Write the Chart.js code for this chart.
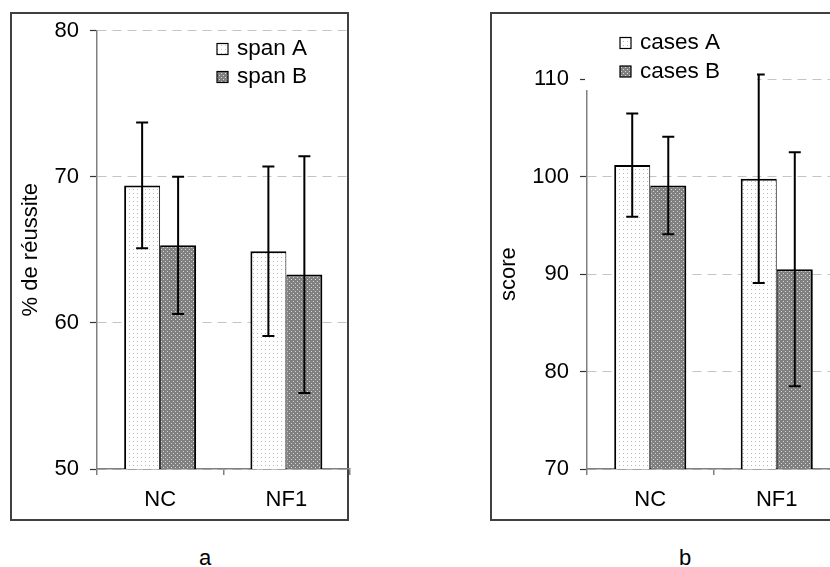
<!DOCTYPE html>
<html>
<head>
<meta charset="utf-8">
<script src="https://cdn.jsdelivr.net/npm/chart.js@4.4.0/dist/chart.umd.min.js"></script>
<style>
  html, body { margin: 0; padding: 0; background: #fff; overflow: hidden; }
  #page { position: relative; width: 830px; height: 567px; overflow: hidden; font-family: "Liberation Sans", Arial, sans-serif; }
  .frame { position: absolute; top: 12px; height: 509px; border: 2px solid #404040; box-sizing: border-box; }
  .caption { position: absolute; top: 545px; width: 100px; line-height: 26px; font-size: 22px; text-align: center; color: #000; }
  canvas { position: absolute; top: 0; }
</style>
</head>
<body>
<div id="page">
  <div class="frame" style="left:10px; width:339px"></div>
  <div class="frame" style="left:490px; width:400px"></div>
  <canvas id="chartA" width="352" height="520" style="left:0"></canvas>
  <canvas id="chartB" width="352" height="520" style="left:490px"></canvas>
  <div class="caption" style="left:155px">a</div>
  <div class="caption" style="left:635px">b</div>
</div>
<script>
// categories
const groups = ["NC", "NF1"];

// panel a : % de réussite
const spanA = [69.4, 64.9];
const spanAErr = [4.3, 5.8];
const spanB = [65.3, 63.3];
const spanBErr = [4.7, 8.1];
const ticksA = [50, 60, 70, 80];

// panel b : score
const casesA = [101.2, 99.8];
const casesAErr = [5.3, 10.7];
const casesB = [99.1, 90.5];
const casesBErr = [5.0, 12.0];
const ticksB = [70, 80, 90, 100, 110];

Chart.defaults.font.family = '"Liberation Sans", Arial, sans-serif';
Chart.defaults.font.size = 22;
Chart.defaults.color = "#000";

// little dotted fills like the excel patterns
function dotPattern(bg, dot, pts, size) {
  const tile = document.createElement("canvas");
  tile.width = size;
  tile.height = size;
  const g = tile.getContext("2d");
  g.fillStyle = bg;
  g.fillRect(0, 0, size, size);
  g.fillStyle = dot;
  pts.forEach(p => g.fillRect(p[0], p[1], 1, 1));
  return g.createPattern(tile, "repeat");
}
const lightFill = dotPattern("#ffffff", "#bdbdbd", [[1, 1]], 4);
const darkFill = dotPattern("#808080", "#d6d6d6", [[1, 1], [3, 3]], 4);

const errorBars = {
  id: "errorBars",
  afterDatasetsDraw(chart) {
    const ctx = chart.ctx;
    const y = chart.scales.y;
    ctx.save();
    ctx.strokeStyle = "#000";
    ctx.lineWidth = 2;
    chart.data.datasets.forEach((ds, i) => {
      chart.getDatasetMeta(i).data.forEach((bar, j) => {
        const hi = y.getPixelForValue(ds.data[j] + ds.errors[j]);
        const lo = y.getPixelForValue(ds.data[j] - ds.errors[j]);
        ctx.beginPath();
        ctx.moveTo(bar.x, hi);
        ctx.lineTo(bar.x, lo);
        ctx.moveTo(bar.x - 6, hi);
        ctx.lineTo(bar.x + 6, hi);
        ctx.moveTo(bar.x - 6, lo);
        ctx.lineTo(bar.x + 6, lo);
        ctx.stroke();
      });
    });
    ctx.restore();
  }
};

const boxLegend = {
  id: "boxLegend",
  afterDraw(chart, args, o) {
    const ctx = chart.ctx;
    ctx.save();
    ctx.fillStyle = "#fff";
    ctx.fillRect(o.left, o.top, o.width, o.height);
    ctx.font = '22.5px "Liberation Sans", Arial, sans-serif';
    ctx.textBaseline = "middle";
    chart.data.datasets.forEach((ds, i) => {
      const cy = o.rowY + i * o.rowH;
      ctx.fillStyle = ds.backgroundColor;
      ctx.fillRect(o.swatchX, cy - 5.5, 11, 11);
      ctx.strokeStyle = "#000";
      ctx.lineWidth = 1.2;
      ctx.strokeRect(o.swatchX, cy - 5.5, 11, 11);
      ctx.fillStyle = "#000";
      ctx.fillText(ds.label, o.swatchX + 20, cy);
    });
    ctx.restore();
  }
};

function makeChart(id, labels, sets, tickVals, yTitle, look) {
  const ctx = document.getElementById(id).getContext("2d");
  return new Chart(ctx, {
    type: "bar",
    data: {
      labels: labels,
      datasets: sets.map((s, i) => ({
        label: s.label,
        data: s.data,
        errors: s.errors,
        backgroundColor: i === 0 ? lightFill : darkFill,
        borderColor: "#000",
        borderWidth: i === 0 ? { left: 2, right: 1, top: 2, bottom: 0 } : { left: 1, right: 2, top: 2, bottom: 0 },
        borderSkipped: false,
        barPercentage: 1,
        categoryPercentage: 0.57
      }))
    },
    options: {
      responsive: false,
      animation: false,
      events: [],
      layout: { padding: { top: look.top, left: 0, right: look.right, bottom: 0 } },
      plugins: {
        legend: { display: false },
        tooltip: { enabled: false },
        boxLegend: look.legend
      },
      scales: {
        x: {
          afterFit: s => { s.height = 51; },
          grid: { drawOnChartArea: false, tickLength: 6, color: "#808080", lineWidth: 1.5 },
          border: { color: "#808080", width: 1.5 },
          ticks: { padding: 12 }
        },
        y: {
          min: tickVals[0],
          max: tickVals[tickVals.length - 1],
          afterFit: s => { s.width = 97; },
          afterBuildTicks: s => { s.ticks = tickVals.map(v => ({ value: v })); },
          grid: { color: "#c4c4c4", lineWidth: 1, tickColor: "#333", tickLength: 7, tickWidth: 1.2 },
          border: { dash: [9, 6], color: "#808080", width: 1.5 },
          ticks: { padding: 11 },
          title: { display: true, text: yTitle, padding: { top: look.titlePad, bottom: 0 } }
        }
      }
    },
    plugins: [errorBars, boxLegend]
  });
}

makeChart("chartA", groups, [
  { label: "span A", data: spanA, errors: spanAErr },
  { label: "span B", data: spanB, errors: spanBErr }
], ticksA, "% de réussite", {
  top: 30.5, right: 2.5, titlePad: 17.8,
  legend: { left: 212, top: 33, width: 110, height: 60, swatchX: 217, rowY: 49, rowH: 28 }
});

makeChart("chartB", groups, [
  { label: "cases A", data: casesA, errors: casesAErr },
  { label: "cases B", data: casesB, errors: casesBErr }
], ticksB, "score", {
  top: 79.3, right: 2, titlePad: 5.8,
  legend: { left: 95, top: 22, width: 172, height: 68, swatchX: 130, rowY: 43, rowH: 28.5 }
});
</script>
</body>
</html>
